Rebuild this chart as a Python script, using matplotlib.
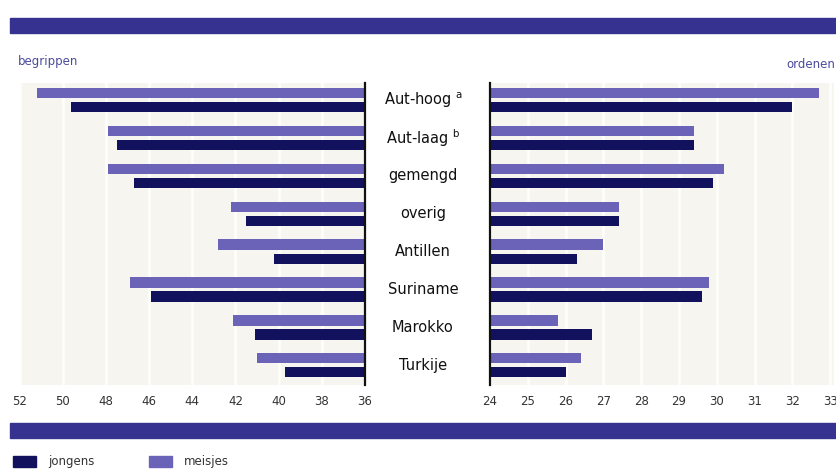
import matplotlib.pyplot as plt
import matplotlib.patches as mpatches
import numpy as np

groups = ["Aut-hoog $^{\\mathregular{a}}$", "Aut-laag $^{\\mathregular{b}}$", "gemengd", "overig",
          "Antillen", "Suriname", "Marokko", "Turkije"]
begr_meisjes = [51.2, 47.9, 47.9, 42.2, 42.8, 46.9, 42.1, 41.0]
begr_jongens = [49.6, 47.5, 46.7, 41.5, 40.2, 45.9, 41.1, 39.7]
orden_meisjes = [32.7, 29.4, 30.2, 27.4, 27.0, 29.8, 25.8, 26.4]
orden_jongens = [32.0, 29.4, 29.9, 27.4, 26.3, 29.6, 26.7, 26.0]
left_ticks = [52, 50, 48, 46, 44, 42, 40, 38, 36]
right_ticks = [24, 25, 26, 27, 28, 29, 30, 31, 32, 33]

c_meis = "#6b63b8"
c_jong = "#12115e"
c_band = "#35338f"
c_txt = "#4a4a9c"

W, H = 837, 474
fig = plt.figure(figsize=(W / 100, H / 100), dpi=100)

y = np.arange(len(groups))
off, bh = 0.185, 0.27
ylim = (7.52, -0.45)

axl = fig.add_axes([19.6 / W, 1 - 385 / H, 345.4 / W, 302 / H])
axl.set_facecolor("#f6f5ef")
axl.barh(y - off, [v - 36 for v in begr_meisjes], left=36, height=bh, color=c_meis)
axl.barh(y + off, [v - 36 for v in begr_jongens], left=36, height=bh, color=c_jong)
axl.set_xlim(52, 36)
axl.set_ylim(*ylim)
axl.set_xticks(left_ticks)
axl.set_yticks([])

axr = fig.add_axes([490 / W, 1 - 385 / H, 344 / W, 302 / H])
axr.set_facecolor("#f6f5ef")
axr.barh(y - off, [v - 24 for v in orden_meisjes], left=24, height=bh, color=c_meis)
axr.barh(y + off, [v - 24 for v in orden_jongens], left=24, height=bh, color=c_jong)
axr.set_xlim(24, 33.1)
axr.set_ylim(*ylim)
axr.set_xticks(right_ticks)
axr.set_yticks([])

for ax, keep in ((axl, "right"), (axr, "left")):
    for s in ax.spines:
        ax.spines[s].set_visible(s == keep)
    ax.spines[keep].set_linewidth(1.6)
    ax.spines[keep].set_color("#111111")
    ax.tick_params(axis="x", length=0, pad=7, labelsize=8.5, labelcolor="#333333")
    ax.grid(axis="x", color="#fdfdfb", linewidth=2)
    ax.set_axisbelow(True)

# category labels between the two panels
for i, g in enumerate(groups):
    yy = axl.transData.transform((36, i))[1]
    fig.text(423 / W, yy / H, g, ha="center", va="center", fontsize=10.5, color="#111111")

fig.text(18 / W, 1 - 62 / H, "begrippen", fontsize=8.5, color=c_txt, va="center")
fig.text(835 / W, 1 - 65 / H, "ordenen", fontsize=8.5, color=c_txt, va="center", ha="right")

# decorative bands
fig.patches.append(mpatches.Rectangle((10 / W, 1 - 33 / H), 827 / W, 15 / H,
                                      transform=fig.transFigure, color=c_band))
fig.patches.append(mpatches.Rectangle((10 / W, 1 - 438 / H), 827 / W, 15 / H,
                                      transform=fig.transFigure, color=c_band))

handles = [mpatches.Patch(color=c_jong, label="jongens"),
           mpatches.Patch(color=c_meis, label="meisjes")]
fig.legend(handles=handles, loc="lower left", bbox_to_anchor=(2 / W, -5 / H), ncol=2,
           frameon=False, fontsize=8.5, handlelength=2.0, handleheight=1.1,
           handletextpad=1.0, columnspacing=4.6, labelcolor="#333333")

fig.savefig("out.png", dpi=100)
